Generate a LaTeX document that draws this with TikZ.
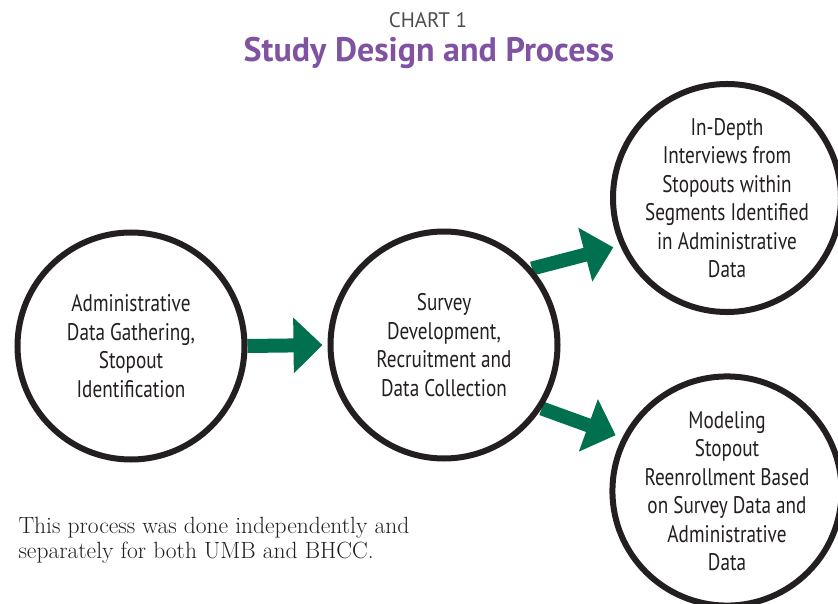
\documentclass[tikz,border=0pt]{standalone}
\usepackage{fontspec}
\usetikzlibrary{arrows.meta,backgrounds}

\newfontfamily\narrowfont[FakeStretch=0.80]{PT Sans}
\newfontfamily\headfont{PT Sans}

\definecolor{arrowgreen}{HTML}{00704F}
\definecolor{titlepurple}{HTML}{8053A2}
\definecolor{ringblack}{HTML}{231F20}
\definecolor{chartgray}{HTML}{4D4D4F}

\tikzset{
	stage/.style={circle, draw=ringblack, line width=6pt, fill=white, minimum size=#1, inner sep=0pt, align=center, text=ringblack, font=\narrowfont\fontsize{24}{28.5}\selectfont},
	flow/.style={draw=arrowgreen, line width=14pt, -{Triangle[length=29pt,width=54pt]}},
}

\begin{document}
\begin{tikzpicture}[x=1pt,y=-1pt]
	\useasboundingbox (0,0) rectangle (838,604);

	\node[text=chartgray, font=\headfont\fontsize{21}{21}\selectfont] (chart) at (428,20) {CHART 1};
	\node[text=titlepurple, font=\headfont\bfseries\fontsize{34}{34}\selectfont] (title) at (429,53) {Study Design and Process};

	\node[stage=227pt] (admin) at (131,346) {Administrative\\Data Gathering,\\Stopout\\Identification};
	\node[stage=227pt] (survey) at (444,345) {Survey\\Development,\\Recruitment and\\Data Collection};
	\node[stage=221pt] (interviews) at (727,198) {In-Depth\\Interviews from\\Stopouts within\\Segments Identified\\in Administrative\\Data};
	\node[stage=221pt] (modeling) at (727,491) {Modeling\\Stopout\\Reenrollment Based\\on Survey Data and\\Administrative\\Data};

	\begin{scope}[on background layer]
		\draw[flow, shorten >=5pt] (admin.east) -- (survey.west); % admin to survey
		\draw[flow, shorten >=7pt] (survey.41) -- (interviews.204); % survey to interviews
		\draw[flow, shorten >=7pt] (survey.327) -- (modeling.153); % survey to modeling
	\end{scope}

	\node[anchor=west, align=left, text=ringblack, font=\fontsize{23.5}{25}\selectfont] (note) at (15,540) {This process was done independently and\\separately for both UMB and BHCC.};
\end{tikzpicture}
\end{document}
